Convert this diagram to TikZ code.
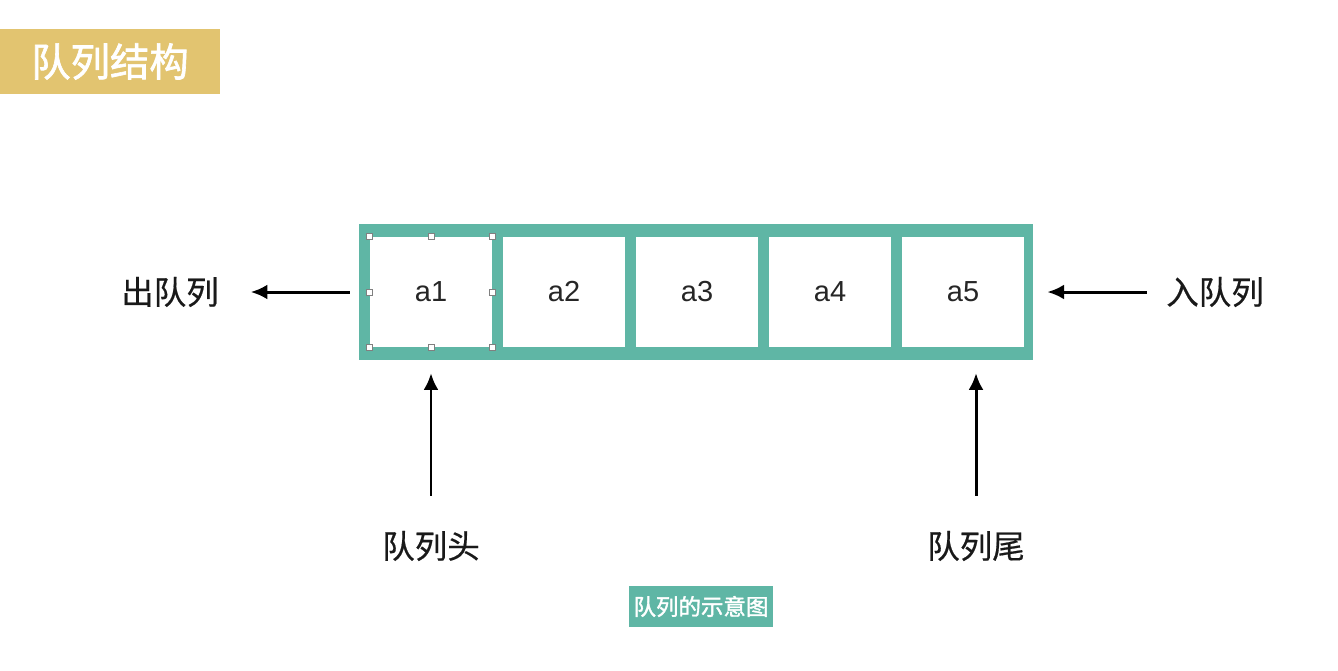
\documentclass[tikz,border=0pt]{standalone}
\usepackage{fontspec}
\setmainfont{Liberation Sans}
\newfontfamily\cjk{Noto Sans CJK SC}[FakeBold=0.5]
\newfontfamily\cjkmed{Noto Sans CJK SC}[FakeBold=1.6]
\usetikzlibrary{arrows.meta}
\definecolor{queueteal}{RGB}{95,182,165}
\definecolor{titlegold}{RGB}{226,196,112}
\tikzset{
  cell/.style={fill=white,minimum width=2.44cm,minimum height=2.2cm,inner sep=0pt,text=black!85,font=\fontsize{16.5}{19}\selectfont},
  lbl/.style={inner sep=0pt,text=black!90,font=\cjk\fontsize{18.5}{22}\selectfont},
  arr/.style={-{Latex[length=9.5pt,width=8.5pt]},line width=1.7pt},
}
\begin{document}
\begin{tikzpicture}[x=0.02cm,y=-0.02cm]
  \useasboundingbox (0,0) rectangle (1338,670);
  % title and caption
  \node[fill=titlegold,minimum width=4.4cm,minimum height=1.3cm,text=white,
        font=\cjkmed\fontsize{22.4}{26}\selectfont] (title) at (110,61.5) {队列结构};
  \node[fill=queueteal,minimum width=2.88cm,minimum height=0.82cm,inner sep=0pt,text=white,
        font=\cjkmed\fontsize{12.8}{15}\selectfont] (caption) at (701,606.5) {队列的示意图};
  % the queue
  \node[fill=queueteal,minimum width=13.48cm,minimum height=2.74cm,inner sep=0pt] (queue) at (696,292) {};
  \foreach \i in {1,...,5}
    \node[cell] (cell\i) at ({431+133*(\i-1)},292) {a\i};
  \foreach \a in {north west,north,north east,east,south east,south,south west,west}
    \draw[gray,fill=white,line width=0.4pt] ([shift={(-3,3)}]cell1.\a) rectangle ++(6,-6);
  % labels
  \node[lbl] (outq) at (170,292) {出队列};
  \node[lbl] (inq) at (1215,292) {入队列};
  \node[lbl] (head) at (431,546) {队列头};
  \node[lbl] (tail) at (976,546) {队列尾};
  % arrows
  \draw[arr,shorten <=5pt,shorten >=18pt] (queue.west) -- (outq.east);
  \draw[arr,shorten <=11pt,shorten >=8pt] (inq.west) -- (queue.east);
  \draw[arr,shorten <=20pt,shorten >=7pt] (head.north) -- (head.north |- queue.south);
  \draw[arr,shorten <=20pt,shorten >=7pt] (tail.north) -- (tail.north |- queue.south);
\end{tikzpicture}
\end{document}
